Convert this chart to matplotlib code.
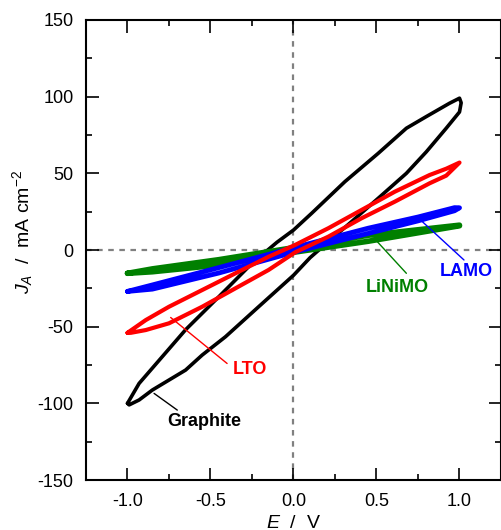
#!/usr/bin/env python3

import numpy as np
from matplotlib import pyplot as plt
from matplotlib.ticker import MultipleLocator, FormatStrFormatter


# loop data: rising branch, then falling branch
graphite_up_x = [-1.00, -0.93, -0.81, -0.65, -0.45, -0.25, -0.10, 0.00, 0.11, 0.31, 0.51, 0.68, 0.80, 0.94, 1.00]
graphite_up_y = [-100, -87, -72, -52, -30.5, -8.7, 5, 13, 24, 44.6, 63, 79.4, 87, 95.7, 99]
graphite_dn_x = [1.01, 1.00, 0.92, 0.80, 0.68, 0.51, 0.35, 0.21, 0.10, 0.00, -0.21, -0.41, -0.55, -0.65, -0.75, -0.85, -0.93, -0.99, -1.00]
graphite_dn_y = [96, 90, 79.4, 64, 50, 33.7, 18.5, 5.4, -5, -16.5, -37, -56.6, -68.5, -78.3, -84.8, -91.3, -97.8, -101, -100]

lto_up_x = [-1.00, -0.89, -0.75, -0.55, -0.35, -0.15, 0.01, 0.21, 0.41, 0.61, 0.82, 0.92, 1.00]
lto_up_y = [-54, -45.7, -37, -26.1, -15.2, -4.4, 3.3, 14.2, 26.1, 38, 48.9, 53, 57]
lto_dn_x = [1.00, 0.92, 0.82, 0.61, 0.41, 0.21, 0.01, -0.15, -0.35, -0.55, -0.75, -0.89, -0.98, -1.00]
lto_dn_y = [57, 48.5, 43.5, 31.5, 20.7, 8.7, -1.5, -13, -25, -37, -47.8, -52.2, -54, -54]

lamo_up_x = [-1.00, -0.85, -0.45, 0.00, 0.45, 0.75, 0.97, 1.00]
lamo_up_y = [-27, -22.8, -11.5, 1.5, 14.2, 21.5, 27.6, 27.5]
lamo_dn_x = [1.00, 0.97, 0.75, 0.45, 0.00, -0.45, -0.85, -1.00]
lamo_dn_y = [27.5, 25.6, 19, 10.8, -1.5, -15, -25.5, -27]

linimo_up_x = [-1.00, -0.85, -0.45, 0.00, 0.45, 1.00]
linimo_up_y = [-15.2, -12.3, -6.3, 1.5, 9.6, 16.2]
linimo_dn_x = [1.00, 0.45, 0.00, -0.45, -0.85, -1.00]
linimo_dn_y = [15.8, 5.7, -1.5, -9.8, -14.2, -15.2]

# label, color, text position, leader line (near curve -> near text)
labels = [
    ('Graphite', 'black', (-0.54, -112), (-0.84, -93.5), (-0.70, -104.4)),
    ('LTO', 'red', (-0.265, -78), (-0.74, -44), (-0.40, -74)),
    ('LiNiMO', 'green', (0.625, -24.4), (0.505, 5.4), (0.68, -15.2)),
    ('LAMO', 'blue', (1.04, -14.1), (0.776, 18.5), (1.027, -6.5)),
]

plt.rcParams['font.family'] = ['Liberation Sans', 'DejaVu Sans']
plt.rcParams['mathtext.fontset'] = 'custom'
plt.rcParams['mathtext.rm'] = 'Liberation Sans'
plt.rcParams['mathtext.it'] = 'Liberation Sans:italic'
plt.rcParams['axes.unicode_minus'] = False

fontsize = 13.0

fig, ax = plt.subplots(figsize=(5.02, 5.30), dpi=100)
fig.subplots_adjust(left=0.1713, right=0.998, bottom=0.0943, top=0.9623)

ax.axhline(0, color='#808080', ls=(0, (2.5, 2.5)), lw=1.6, zorder=1)
ax.axvline(0, color='#808080', ls=(0, (2.5, 2.5)), lw=1.6, zorder=1)

loops = [
    (graphite_up_x + graphite_dn_x, graphite_up_y + graphite_dn_y, 'black', 2.6),
    (linimo_up_x + linimo_dn_x, linimo_up_y + linimo_dn_y, 'green', 4.0),
    (lamo_up_x + lamo_dn_x, lamo_up_y + lamo_dn_y, 'blue', 3.5),
    (lto_up_x + lto_dn_x, lto_up_y + lto_dn_y, 'red', 3.0),
]
for x, y, color, lw in loops:
    ax.plot(x, y, color=color, lw=lw, solid_joinstyle='round', solid_capstyle='round', zorder=2)

for text, color, pos, p0, p1 in labels:
    ax.annotate('', xy=p0, xytext=p1,
                arrowprops=dict(arrowstyle='-', color=color, lw=1.0, shrinkA=0, shrinkB=0))
    ax.text(pos[0], pos[1], text, color=color, fontsize=fontsize, fontweight='bold',
            ha='center', va='center')

ax.set_xlim(-1.25, 1.25)
ax.set_ylim(-150, 150)
ax.xaxis.set_major_locator(MultipleLocator(0.5))
ax.xaxis.set_minor_locator(MultipleLocator(0.25))
ax.yaxis.set_major_locator(MultipleLocator(50))
ax.yaxis.set_minor_locator(MultipleLocator(25))
ax.xaxis.set_major_formatter(FormatStrFormatter('%.1f'))
ax.yaxis.set_major_formatter(FormatStrFormatter('%d'))

ax.tick_params(axis='both', which='both', direction='in', top=True, right=True,
               labelsize=fontsize, width=1.2)
ax.tick_params(axis='both', which='major', length=9, pad=9)
ax.tick_params(axis='both', which='minor', length=4.5)
for spine in ax.spines.values():
    spine.set_linewidth(1.5)

ax.set_xlabel(r'$E$  /  V', fontsize=fontsize + 1, va='top')
ax.set_ylabel(r'$J_A$  /  mA cm$^{-2}$', fontsize=fontsize + 1)
ax.xaxis.set_label_coords(0.5, -0.075)
ax.yaxis.set_label_coords(-0.123, 0.54)

plt.savefig('out.png', dpi=100)
plt.close(fig)
